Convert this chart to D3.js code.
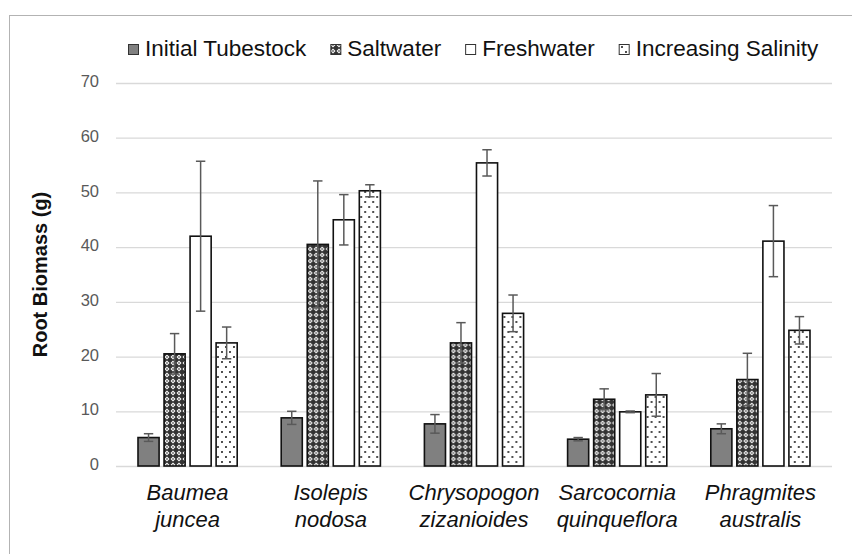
<!DOCTYPE html>
<html>
<head>
<meta charset="utf-8">
<script src="https://cdn.jsdelivr.net/npm/d3@7"></script>
<style>
  body { margin: 0; background: #fff; }
  svg { display: block; font-family: "Liberation Sans", Arial, sans-serif; }
</style>
</head>
<body>
<div id="chart"></div>
<script>
const categories = [
  ['Baumea', 'juncea'],
  ['Isolepis', 'nodosa'],
  ['Chrysopogon', 'zizanioides'],
  ['Sarcocornia', 'quinqueflora'],
  ['Phragmites', 'australis']
];
const seriesNames = ['Initial Tubestock', 'Saltwater', 'Freshwater', 'Increasing Salinity'];

// means per series (one value per category)
const initialTubestock = [5.2, 8.8, 7.7, 4.9, 6.8];
const saltwater = [20.5, 40.5, 22.5, 12.2, 15.8];
const freshwater = [42.0, 45.0, 55.4, 9.9, 41.1];
const increasingSalinity = [22.5, 50.3, 27.9, 13.0, 24.8];

// standard errors
const initialErr = [0.7, 1.2, 1.7, 0.3, 0.9];
const saltErr = [3.7, 11.6, 3.7, 1.9, 4.8];
const freshErr = [13.7, 4.6, 2.4, 0.15, 6.5];
const increasingErr = [2.9, 1.1, 3.35, 3.9, 2.5];

const yTicks = [0, 10, 20, 30, 40, 50, 60, 70];

const values = [initialTubestock, saltwater, freshwater, increasingSalinity];
const errors = [initialErr, saltErr, freshErr, increasingErr];

const W = 852, H = 554;
const svg = d3.select('#chart').append('svg')
  .attr('width', W)
  .attr('height', H);

// patterns for bar fills
const defs = svg.append('defs');
const hatch = defs.append('pattern')
  .attr('id', 'hatch')
  .attr('patternUnits', 'userSpaceOnUse')
  .attr('width', 6).attr('height', 6);
hatch.append('rect').attr('width', 6).attr('height', 6).attr('fill', '#333');
hatch.append('polygon').attr('points', '3,0.5 5.5,3 3,5.5 0.5,3').attr('fill', '#fff');
hatch.append('circle').attr('cx', 3).attr('cy', 3).attr('r', 0.9).attr('fill', '#666');

const dots = defs.append('pattern')
  .attr('id', 'dots')
  .attr('patternUnits', 'userSpaceOnUse')
  .attr('width', 8).attr('height', 10);
dots.append('rect').attr('width', 8).attr('height', 10).attr('fill', '#fff');
dots.append('circle').attr('cx', 2).attr('cy', 2).attr('r', 1.05).attr('fill', '#222');
dots.append('circle').attr('cx', 6).attr('cy', 7).attr('r', 1.05).attr('fill', '#222');

const fills = ['#808080', 'url(#hatch)', '#fff', 'url(#dots)'];

// outer chart border
svg.append('rect')
  .attr('x', 9.5).attr('y', 15.5)
  .attr('width', 850).attr('height', 545)
  .attr('fill', 'none')
  .attr('stroke', '#b3b3b3')
  .attr('stroke-width', 1);

const plot = { left: 116, right: 832, top: 83, bottom: 466 };

const x0 = d3.scaleBand()
  .domain(d3.range(categories.length))
  .range([plot.left, plot.right])
  .padding(0);

const groupPad = 22;
const x1 = d3.scaleBand()
  .domain(d3.range(seriesNames.length))
  .range([groupPad, x0.bandwidth() - groupPad])
  .paddingInner(0.19)
  .paddingOuter(0);

const y = d3.scaleLinear()
  .domain([0, 70])
  .range([plot.bottom, plot.top]);

// gridlines + tick labels
const yAxis = svg.append('g')
  .attr('transform', 'translate(' + plot.left + ',0)')
  .call(d3.axisLeft(y).tickValues(yTicks).tickSize(-(plot.right - plot.left)).tickPadding(17));
yAxis.select('.domain').remove();
yAxis.selectAll('.tick line').attr('stroke', '#d9d9d9').attr('stroke-width', 1.3);
yAxis.selectAll('.tick text')
  .attr('fill', '#595959')
  .style('font-size', '16.5px')
  .style('font-family', '"Liberation Sans", Arial, sans-serif')
  .attr('dy', '0.22em');

// bars
const groups = svg.selectAll('.grp')
  .data(categories)
  .enter().append('g')
  .attr('class', 'grp')
  .attr('transform', (d, i) => 'translate(' + x0(i) + ',0)');

groups.each(function(c, ci) {
  const g = d3.select(this);
  seriesNames.forEach((s, si) => {
    const v = values[si][ci];
    g.append('rect')
      .attr('x', x1(si))
      .attr('y', y(v))
      .attr('width', x1.bandwidth())
      .attr('height', y(0) - y(v))
      .attr('fill', fills[si])
      .attr('stroke', '#111')
      .attr('stroke-width', 1.6);
  });
});

// error bars
groups.each(function(c, ci) {
  const g = d3.select(this);
  seriesNames.forEach((s, si) => {
    const v = values[si][ci], e = errors[si][ci];
    const cx = x1(si) + x1.bandwidth() / 2;
    const eb = g.append('g').attr('stroke', '#595959').attr('stroke-width', 1.5);
    eb.append('line').attr('x1', cx).attr('x2', cx).attr('y1', y(v + e)).attr('y2', y(v - e));
    eb.append('line').attr('x1', cx - 4.7).attr('x2', cx + 4.7).attr('y1', y(v + e)).attr('y2', y(v + e));
    eb.append('line').attr('x1', cx - 4.7).attr('x2', cx + 4.7).attr('y1', y(v - e)).attr('y2', y(v - e));
  });
});

// category labels (two lines, italic)
groups.append('text')
  .attr('x', x0.bandwidth() / 2)
  .attr('y', 500)
  .attr('text-anchor', 'middle')
  .style('font-size', '22px')
  .style('font-style', 'italic')
  .attr('fill', '#111')
  .selectAll('tspan')
  .data(d => d)
  .enter().append('tspan')
  .attr('x', x0.bandwidth() / 2)
  .attr('dy', (d, i) => i === 0 ? 0 : 27)
  .text(d => d);

// y axis title
svg.append('text')
  .attr('transform', 'translate(47,' + ((plot.top + plot.bottom) / 2) + ') rotate(-90)')
  .attr('text-anchor', 'middle')
  .style('font-size', '20px')
  .style('font-weight', 'bold')
  .attr('fill', '#111')
  .text('Root Biomass (g)');

// legend
const legend = svg.append('g');
let lx = 128;
seriesNames.forEach((s, si) => {
  legend.append('rect')
    .attr('x', lx + 0.5).attr('y', 44.5)
    .attr('width', 10).attr('height', 10)
    .attr('fill', fills[si])
    .attr('stroke', '#333')
    .attr('stroke-width', 1);
  const t = legend.append('text')
    .attr('x', lx + 17)
    .attr('y', 56)
    .style('font-size', '22.5px')
    .attr('fill', '#111')
    .text(s);
  lx = lx + 17 + t.node().getComputedTextLength() + 24;
});
</script>
</body>
</html>
